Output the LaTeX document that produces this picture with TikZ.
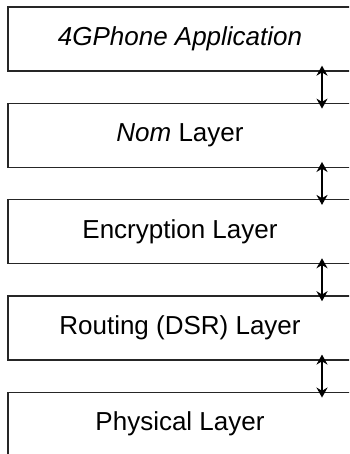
\documentclass[tikz,border=0pt]{standalone}
\usepackage{fontspec}
\setmainfont{Liberation Sans}
\usetikzlibrary{positioning,arrows.meta}

\begin{document}
\begin{tikzpicture}[x=1pt,y=1pt,
	layer/.style={draw=black!85,line width=1.3pt,minimum width=344pt,minimum height=64pt,inner sep=0pt,font=\fontsize{26}{30}\selectfont},
	link/.style={line width=1.8pt,{Stealth[length=10pt,width=11pt]}-{Stealth[length=10pt,width=11pt]}}]
	\useasboundingbox (0,0) rectangle (349,-454);
	\clip (0,0) rectangle (349,-454); % les boites depassent a droite
	\node[layer] (app) at (180,-39) {\textit{4GPhone Application}};
	\node[layer,below=31pt of app] (nom) {\textit{Nom} Layer};
	\node[layer,below=31pt of nom] (enc) {Encryption Layer};
	\node[layer,below=31pt of enc] (dsr) {Routing (DSR) Layer};
	\node[layer,below=31pt of dsr] (phy) {Physical Layer};
	\coordinate (ax) at (322,0); % colonne des fleches
	\foreach \a/\b in {app/nom,nom/enc,enc/dsr,dsr/phy}
		\draw[link] ([yshift=6pt]\a.south -| ax) -- ([yshift=-6pt]\b.north -| ax);
\end{tikzpicture}
\end{document}
